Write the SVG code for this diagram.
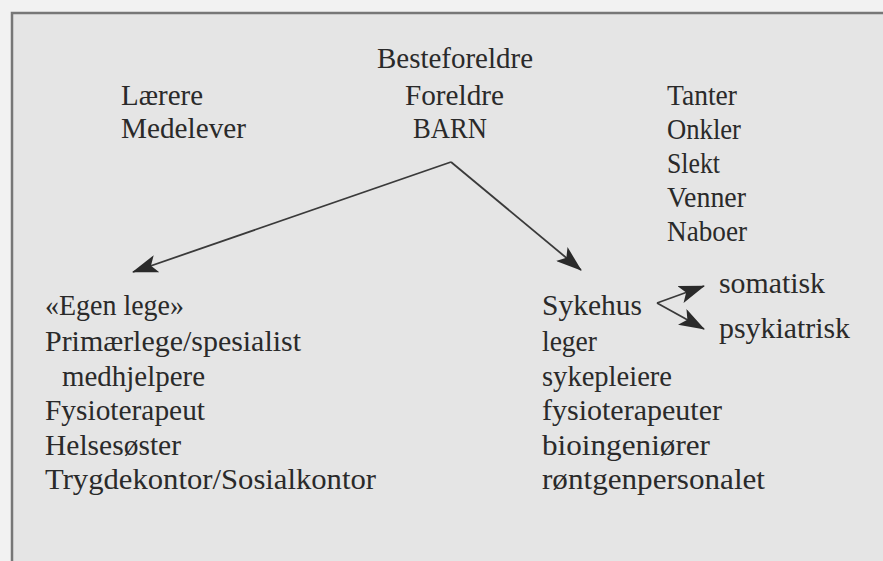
<svg xmlns="http://www.w3.org/2000/svg" width="883" height="561" viewBox="0 0 883 561">
<defs>
<style>
text{font-family:"Liberation Serif","DejaVu Serif",serif;font-size:29px;fill:#2a2a2a;}
.ln{stroke:#3a3a3a;stroke-width:1.8;fill:none;}
</style>
<marker id="ah" viewBox="0 0 26 18" refX="25" refY="9" markerWidth="26" markerHeight="18" markerUnits="userSpaceOnUse" orient="auto">
<path d="M0,0 L26,9 L0,18 L6,9 Z" fill="#2a2a2a"/>
</marker>
</defs>
<rect x="0" y="0" width="883" height="561" fill="#f2f2f2"/>
<rect x="12" y="13" width="871" height="548" fill="#e5e5e5"/>
<path d="M12,561 L12,13 L883,13" stroke="#777" stroke-width="2.5" fill="none"/>
<g id="connectors">
<path class="ln" d="M451,162 L133,272" marker-end="url(#ah)"/>
<path class="ln" d="M451,162 L581,270" marker-end="url(#ah)"/>
<path class="ln" d="M657,303 L704,286" marker-end="url(#ah)"/>
<path class="ln" d="M657,303 L704,329" marker-end="url(#ah)"/>
</g>
<g id="family">
<text x="377" y="68" textLength="156" lengthAdjust="spacingAndGlyphs">Besteforeldre</text>
<text x="405" y="105" textLength="99" lengthAdjust="spacingAndGlyphs">Foreldre</text>
<text x="413" y="138" textLength="74" lengthAdjust="spacingAndGlyphs">BARN</text>
</g>
<g id="school">
<text x="121" y="105" textLength="82" lengthAdjust="spacingAndGlyphs">Lærere</text>
<text x="121" y="138" textLength="125" lengthAdjust="spacingAndGlyphs">Medelever</text>
</g>
<g id="relatives">
<text x="667" y="105" textLength="70" lengthAdjust="spacingAndGlyphs">Tanter</text>
<text x="667" y="139" textLength="74" lengthAdjust="spacingAndGlyphs">Onkler</text>
<text x="667" y="173" textLength="53" lengthAdjust="spacingAndGlyphs">Slekt</text>
<text x="667" y="207" textLength="79" lengthAdjust="spacingAndGlyphs">Venner</text>
<text x="667" y="241" textLength="80" lengthAdjust="spacingAndGlyphs">Naboer</text>
</g>
<g id="primary-care">
<text x="45" y="315" textLength="139" lengthAdjust="spacingAndGlyphs">«Egen lege»</text>
<text x="45" y="351" textLength="256" lengthAdjust="spacingAndGlyphs">Primærlege/spesialist</text>
<text x="62" y="386" textLength="143" lengthAdjust="spacingAndGlyphs">medhjelpere</text>
<text x="45" y="420" textLength="160" lengthAdjust="spacingAndGlyphs">Fysioterapeut</text>
<text x="45" y="455" textLength="136" lengthAdjust="spacingAndGlyphs">Helsesøster</text>
<text x="45" y="489" textLength="331" lengthAdjust="spacingAndGlyphs">Trygdekontor/Sosialkontor</text>
</g>
<g id="hospital">
<text x="542" y="315" textLength="100" lengthAdjust="spacingAndGlyphs">Sykehus</text>
<text x="542" y="351" textLength="55" lengthAdjust="spacingAndGlyphs">leger</text>
<text x="542" y="386" textLength="130" lengthAdjust="spacingAndGlyphs">sykepleiere</text>
<text x="542" y="420" textLength="180" lengthAdjust="spacingAndGlyphs">fysioterapeuter</text>
<text x="542" y="455" textLength="168" lengthAdjust="spacingAndGlyphs">bioingeniører</text>
<text x="542" y="489" textLength="223" lengthAdjust="spacingAndGlyphs">røntgenpersonalet</text>
</g>
<g id="somatisk">
<text x="719" y="293" textLength="106" lengthAdjust="spacingAndGlyphs">somatisk</text>
</g>
<g id="psykiatrisk">
<text x="719" y="338" textLength="131" lengthAdjust="spacingAndGlyphs">psykiatrisk</text>
</g>
</svg>
